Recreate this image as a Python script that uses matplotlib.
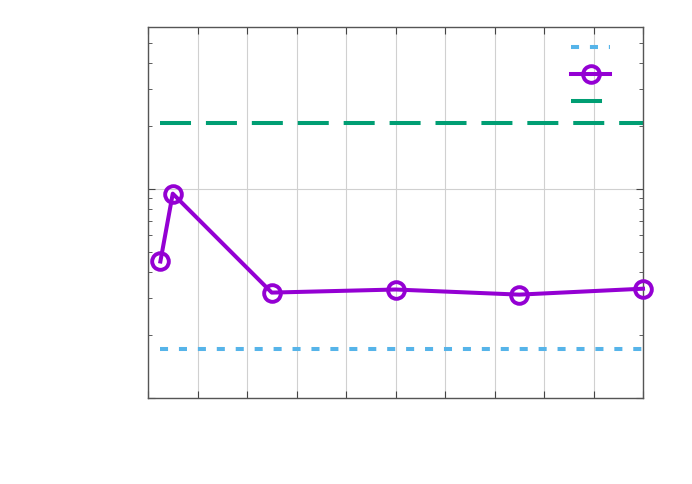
import matplotlib
matplotlib.use('Agg')
import matplotlib.pyplot as plt
from matplotlib.ticker import MultipleLocator, LogLocator, NullFormatter

x = [2.5, 5, 25, 50, 75, 100]
measured = [4.48, 9.46, 3.18, 3.29, 3.11, 3.32]
lower_ref = [1.70] * len(x)
upper_ref = [20.7] * len(x)

fig = plt.figure(figsize=(6.92, 4.85), dpi=100)
ax = fig.add_axes([148/692, 86.4/485, 495/692, 371/485])

ax.plot(x, lower_ref, color='#56B4E9', lw=2.9, dashes=(2.0, 2.7), label=' ')
ax.plot(x, measured, color='#9400D3', lw=2.9, marker='o', ms=12, mew=2.8,
        mfc='none', label=' ', clip_on=False, zorder=5)
ax.plot(x, upper_ref, color='#009E73', lw=2.9, dashes=(7.7, 3.7), label=' ')

ax.set_yscale('log')
ax.set_xlim(0, 100)
ax.set_ylim(1, 59.6)
ax.xaxis.set_major_locator(MultipleLocator(10))
ax.yaxis.set_major_locator(LogLocator(base=10))
ax.yaxis.set_minor_locator(LogLocator(base=10, subs=range(2, 10)))
ax.xaxis.set_major_formatter(NullFormatter())
ax.yaxis.set_major_formatter(NullFormatter())
ax.yaxis.set_minor_formatter(NullFormatter())

ax.grid(True, which='major', color='#d0d0d0', lw=0.8)
ax.set_axisbelow(True)
ax.tick_params(which='both', direction='in', top=True, right=True, color='#444444')
ax.tick_params(which='major', length=5)
ax.tick_params(which='minor', length=3)
for s in ax.spines.values():
    s.set_color('#555555')
    s.set_linewidth(1)

ax.legend(loc='upper right', bbox_to_anchor=(1 - 3.5/495, 1), frameon=False,
          handlelength=2.8, labelspacing=0.95, borderaxespad=0.6, fontsize=10)

fig.savefig('out.png', dpi=100)
